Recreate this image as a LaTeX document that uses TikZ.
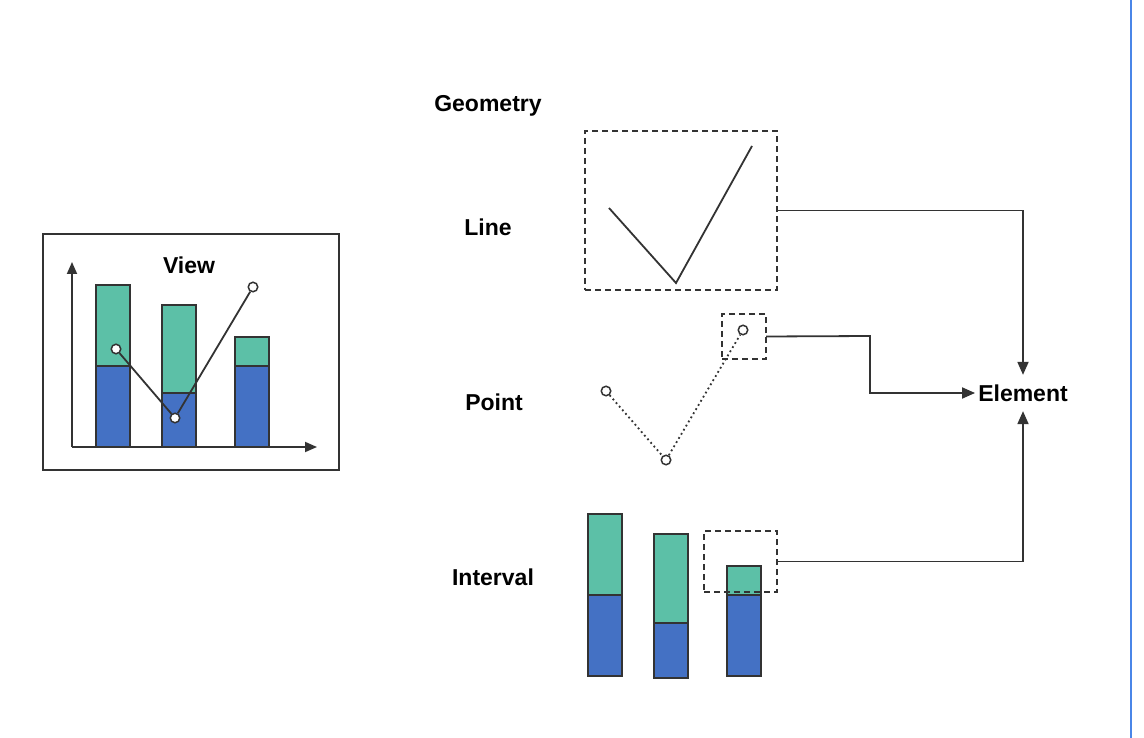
\documentclass[tikz,border=0pt]{standalone}
\usepackage{fontspec}
\setmainfont{Liberation Sans}
\usetikzlibrary{arrows.meta}
\definecolor{teal1}{HTML}{5CC0A7}
\definecolor{blue1}{HTML}{4471C4}
\definecolor{ink}{HTML}{333333}
\definecolor{edge}{HTML}{4A86E8}
\tikzset{
  lbl/.style={font=\fontsize{23}{27}\selectfont\bfseries, text=black, inner sep=0pt},
  barpart/.style={draw=ink, line width=1.8pt},
  dbox/.style={draw=ink, line width=1.6pt, dash pattern=on 6pt off 4pt, inner sep=0pt, outer sep=0pt, anchor=north west},
  arr/.style={draw=ink, line width=1.8pt, -{Triangle[length=13pt,width=11pt]}},
  pt/.style={circle, draw=ink, fill=white, line width=1.5pt, minimum size=9.5pt, inner sep=0pt},
  plain/.style={draw=ink, line width=1.8pt},
}
\newcommand{\stackbar}[5]{% x, top, split, bottom, width
  \fill[teal1] (#1,#2) rectangle ++(#5,#3-#2);
  \fill[blue1] (#1,#3) rectangle (#1+#5,#4);
  \draw[barpart] (#1,#2) rectangle (#1+#5,#4);
  \draw[barpart] (#1,#3) -- (#1+#5,#3);
}
\begin{document}
\begin{tikzpicture}[x=1pt,y=-1pt]
\useasboundingbox (0,0) rectangle (1144,738);
\fill[white] (0,0) rectangle (1144,738);
\draw[edge, line width=2.5pt] (1131,0) -- (1131,738);

% View panel
\node[draw=ink, line width=1.8pt, minimum width=296pt, minimum height=236pt, inner sep=0pt, anchor=north west] (view) at (42,233) {};
\node[lbl] (viewlbl) at (189,265) {View};
\coordinate (origin) at (72,447);
\coordinate (ytop) at (72,262);
\coordinate (xend) at (317,447);
\draw[plain, -{Triangle[length=12pt,width=10pt]}] (origin) -- (ytop);
\draw[plain, -{Triangle[length=12pt,width=10pt]}] (origin) -- (xend);
\stackbar{96}{285}{366}{447}{34}
\stackbar{162}{305}{393}{447}{34}
\stackbar{235}{337}{366}{447}{34}
\node[pt] (v1) at (116,349) {};
\node[pt] (v2) at (175,418) {};
\node[pt] (v3) at (253,287) {};
\draw[plain] (v1) -- (v2) -- (v3);

% labels
\node[lbl] (geom) at (488,106) {Geometry};
\node[lbl] (linelbl) at (488,227) {Line};
\node[lbl] (pointlbl) at (494,402) {Point};
\node[lbl] (intlbl) at (493,577) {Interval};

% Line
\node[dbox, minimum width=192pt, minimum height=159pt] (linebox) at (585,131) {};
\coordinate (l1) at (609,208);
\coordinate (l2) at (676,283);
\coordinate (l3) at (752,146);
\draw[plain] (l1) -- (l2) -- (l3);

% Point
\node[dbox, minimum width=44pt, minimum height=45pt] (pointbox) at (722,314) {};
\node[pt] (p1) at (606,391) {};
\node[pt] (p2) at (666,460) {};
\node[pt] (p3) at (743,330) {};
\draw[draw=ink, line width=1.8pt, dash pattern=on 1.8pt off 3pt] (p1) -- (p2) -- (p3);

% Interval
\stackbar{588}{514}{595}{676}{34}
\stackbar{654}{534}{623}{678}{34}
\stackbar{727}{566}{595}{676}{34}
\node[dbox, minimum width=73pt, minimum height=61pt] (intbox) at (704,531) {};

% Element
\node[lbl, inner xsep=3pt, inner ysep=9.5pt] (elem) at (1023,393) {Element};
\coordinate (bend) at (870,336);
\draw[arr] (linebox.east) -| (elem.north);
\draw[arr] (pointbox.east) -- (bend) |- (elem.west);
\draw[arr] (intbox.east) -| (elem.south);
\end{tikzpicture}
\end{document}
